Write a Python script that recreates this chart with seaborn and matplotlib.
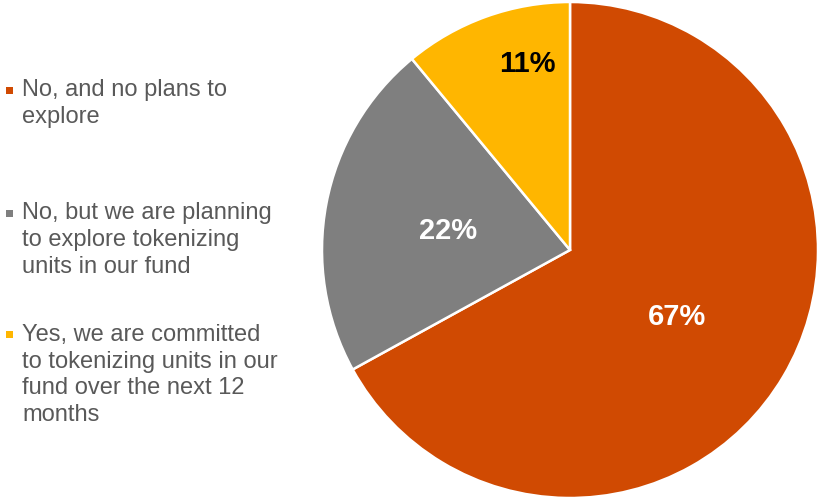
import matplotlib
matplotlib.use("Agg")
import matplotlib.pyplot as plt
import matplotlib.transforms as mtransforms
import numpy as np
import seaborn as sns

# Survey responses: is the fund tokenizing its units?
categories = [
    "No, and no plans to\nexplore",
    "No, but we are planning\nto explore tokenizing\nunits in our fund",
    "Yes, we are committed\nto tokenizing units in our\nfund over the next 12\nmonths",
]
shares = [67, 22, 11]
slice_colors = ["#D04A02", "#7F7F7F", "#FFB600"]
label_colors = ["white", "white", "black"]

sns.set_theme(style="white")
plt.rcParams["font.family"] = ["Liberation Sans", "DejaVu Sans"]

fig = plt.figure(figsize=(8.2, 4.97), dpi=100)

# Pie axes: centre at (570, 250) px, radius 248 px
W, H = 820, 497
cx, cy, r = 570, 250, 248
ax = fig.add_axes([(cx - r) / W, (H - cy - r) / H, 2 * r / W, 2 * r / H])

wedges, _, autotexts = ax.pie(
    shares,
    colors=slice_colors,
    startangle=90,
    counterclock=False,
    radius=1.0,
    autopct=lambda p: f"{p:.0f}%",
    pctdistance=0.5,
    wedgeprops=dict(edgecolor="white", linewidth=1.8),
    textprops=dict(fontsize=21, fontweight="bold"),
)
ax.set_xlim(-1, 1)
ax.set_ylim(-1, 1)
ax.set_aspect("equal")
ax.axis("off")

# Nudge value labels slightly downward so the glyphs sit centred
label_tf = mtransforms.offset_copy(ax.transData, fig=fig, x=0, y=-4, units="dots")
for t, c in zip(autotexts, label_colors):
    t.set_color(c)
    t.set_transform(label_tf)

# The narrow slice's label sits further out, nearer the top of the pie
small = autotexts[2]
ang = np.deg2rad(102.6)
small.set_position((0.785 * np.cos(ang), 0.785 * np.sin(ang)))

# Legend drawn as text blocks on the left with square markers
legend_centers = [103.5, 240, 375]  # vertical centre of each block (px from top)
line_h = 26.7
for label, col, yc in zip(categories, slice_colors, legend_centers):
    n = label.count("\n") + 1
    top_line = yc - (n - 1) * line_h / 2
    fig.text(22 / W, 1 - yc / H, label, ha="left", va="center",
             fontsize=17, color="#595959", linespacing=1.28)
    fig.patches.append(plt.Rectangle((6 / W, 1 - (top_line + 3.5) / H),
                                     7 / W, 7 / H, transform=fig.transFigure,
                                     facecolor=col, edgecolor="none"))

fig.savefig("out.png", dpi=100, facecolor="white")
